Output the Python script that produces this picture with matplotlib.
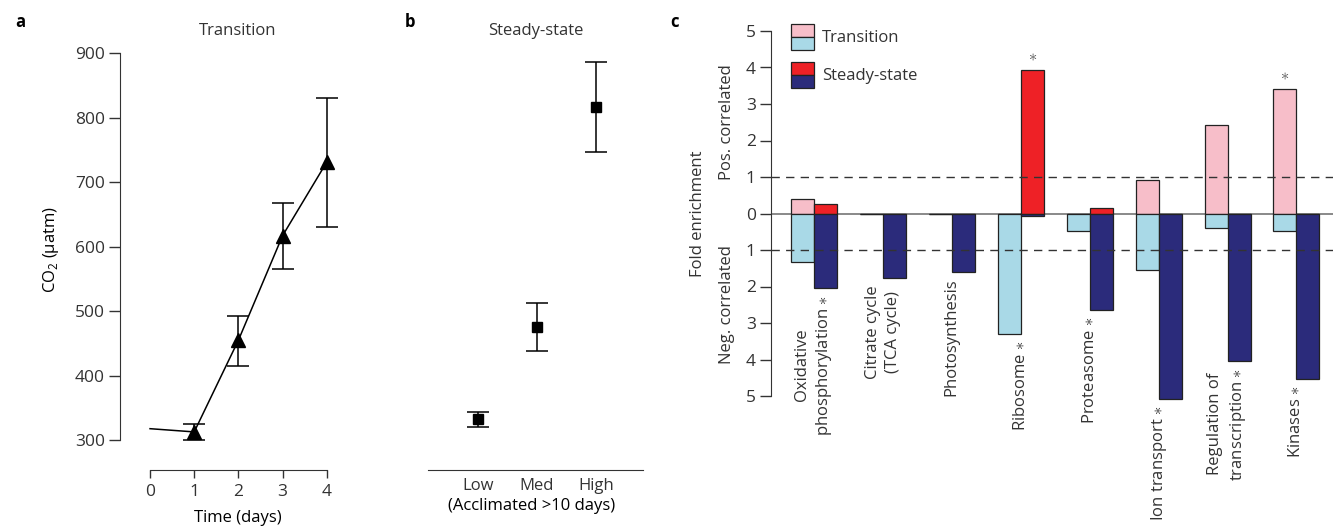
import numpy as np
import matplotlib
matplotlib.use('Agg')
import matplotlib.pyplot as plt
from matplotlib.patches import Patch, Rectangle
from matplotlib.legend_handler import HandlerBase
from matplotlib.ticker import FuncFormatter

plt.rcParams['font.family'] = ['Open Sans', 'DejaVu Sans']
plt.rcParams['mathtext.fontset'] = 'custom'
plt.rcParams['mathtext.rm'] = 'Open Sans'
plt.rcParams['mathtext.fallback'] = 'cm'
plt.rcParams['font.size'] = 12
TXT = '#333333'
plt.rcParams['text.color'] = TXT
plt.rcParams['axes.edgecolor'] = TXT
plt.rcParams['xtick.color'] = TXT
plt.rcParams['ytick.color'] = TXT

# ---- panel a: transition ----
days = [0, 1, 2, 3, 4]
co2_transition = [318, 313, 455, 617, 731]
trans_err_low = [300, 415, 565, 630]    # days 1-4
trans_err_high = [325, 493, 668, 830]

# ---- panel b: steady-state ----
levels = ['Low', 'Med', 'High']
co2_steady = [333, 475, 816]
steady_err_low = [320, 438, 747]
steady_err_high = [344, 512, 886]

# ---- panel c: fold enrichment ----
categories = ["Oxidative\nphosphorylation $\\ast$", "Citrate cycle\n(TCA cycle)", "Photosynthesis",
              "Ribosome $\\ast$", "Proteasome $\\ast$", "Ion transport $\\ast$",
              "Regulation of\ntranscription $\\ast$", "Kinases $\\ast$"]
trans_pos = [0.41, 0, 0, 0, 0, 0.93, 2.42, 3.40]
trans_neg = [1.34, 0, 0, 3.29, 0.48, 1.54, 0.40, 0.47]
steady_pos = [0.25, 0, 0, 3.92, 0.16, 0, 0, 0]
steady_neg = [2.03, 1.77, 1.59, 0.07, 2.64, 5.08, 4.03, 4.53]
# significant positive enrichment marked above bar: (category index, series)
star_above = [(3, 'steady'), (7, 'transition')]

PINK, LBLUE, RED, NAVY = '#F7BEC9', '#A9D9E7', '#EE2126', '#2B2B7B'
EDGE = '#222222'

W, H = 1333, 526
fig = plt.figure(figsize=(W / 100, H / 100), dpi=100)

def px_box(left, top, right, bottom):
    return [left / W, 1 - bottom / H, (right - left) / W, (bottom - top) / H]

# ================= a =================
axa = fig.add_axes(px_box(120, 53, 340, 470))
axa.plot(days, co2_transition, color='black', lw=1.1, zorder=2)
c1 = np.array(co2_transition[1:])
yerr = [c1 - np.array(trans_err_low), np.array(trans_err_high) - c1]
axa.errorbar(days[1:], c1, yerr=yerr, fmt='^', color='black', ms=10,
             capsize=8, elinewidth=1.1, capthick=1.1, zorder=3)
axa.set_xlim(-0.68, 4.3)
axa.set_ylim(254, 900)
axa.spines[['top', 'right']].set_visible(False)
axa.spines['left'].set_bounds(300, 900)
axa.spines['bottom'].set_bounds(0, 4)
axa.set_yticks(range(300, 901, 100))
axa.set_xticks(range(0, 5))
axa.tick_params(axis='y', length=8, width=1, pad=3, labelsize=12.5)
axa.tick_params(axis='x', length=6, width=1, pad=4, labelsize=12.5)
axa.set_ylabel(r'CO$_\mathregular{2}$ ($\mathregular{\mu}$atm)', fontsize=12)
axa.yaxis.set_label_coords(-0.27, 0.53)
axa.set_xlabel('Time (days)', fontsize=12)
axa.xaxis.set_label_coords(0.536, -0.097)
axa.xaxis.label.set_va('top')
axa.set_title('Transition', fontsize=12, x=0.536, pad=13)

# ================= b =================
axb = fig.add_axes(px_box(428, 53, 643, 470))
xb = np.arange(len(levels))
cs = np.array(co2_steady)
axb.errorbar(xb, cs, yerr=[cs - np.array(steady_err_low), np.array(steady_err_high) - cs],
             fmt='s', color='black', ms=7.5, capsize=8, elinewidth=1.1, capthick=1.1)
axb.set_xlim(-0.85, 2.8)
axb.set_ylim(254, 900)
axb.spines[['top', 'right', 'left']].set_visible(False)
axb.set_yticks([])
axb.set_xticks(xb)
axb.set_xticklabels(levels)
axb.tick_params(axis='x', length=0, pad=6, labelsize=12)
axb.set_xlabel('(Acclimated >10 days)', fontsize=12)
axb.xaxis.set_label_coords(0.484, -0.066)
axb.xaxis.label.set_va('top')
axb.set_title('Steady-state', fontsize=12, pad=13)

# ================= c =================
axc = fig.add_axes(px_box(771, 31, 1333, 403.3))
x = np.arange(len(categories))
bw = 1 / 3
tp, tn = np.array(trans_pos), np.array(trans_neg)
sp, sn = np.array(steady_pos), np.array(steady_neg)
axc.axhline(0, color='#808080', lw=1.3, zorder=1)
kw = dict(width=bw, edgecolor=EDGE, linewidth=0.9, zorder=2)
axc.bar(x - bw / 2, tp, color=PINK, **kw)
axc.bar(x - bw / 2, -tn, color=LBLUE, **kw)
axc.bar(x + bw / 2, sp, color=RED, **kw)
axc.bar(x + bw / 2, -sn, color=NAVY, **kw)
for yv in (1, -1):
    axc.axhline(yv, color='#333333', lw=1, dashes=(6, 4.5), zorder=3)

axc.set_xlim(-0.624, 7.53)
axc.set_ylim(-5.2, 5.0)
axc.spines[['top', 'right', 'bottom']].set_visible(False)
axc.spines['left'].set_bounds(-5, 5)
axc.set_yticks(range(-5, 6))
axc.yaxis.set_major_formatter(FuncFormatter(lambda v, p: f"{abs(v):g}"))
axc.tick_params(axis='y', length=8, width=1, pad=3, labelsize=12.5)
axc.set_xticks([])

lowest = np.minimum(-tn, -sn)
for xi, lo, lab in zip(x, lowest, categories):
    axc.annotate(lab, xy=(xi, lo), xytext=(0, -5), textcoords='offset points',
                 rotation=90, ha='center', va='top', fontsize=12,
                 linespacing=1.35, annotation_clip=False)

for idx, series in star_above:
    if series == 'steady':
        xs, top = x[idx] + bw / 2, sp[idx]
    else:
        xs, top = x[idx] - bw / 2, tp[idx]
    axc.annotate(r'$\ast$', xy=(xs, top), xytext=(0, 4), textcoords='offset points',
                 ha='center', va='bottom', fontsize=12, color='#555555')

tr = axc.get_yaxis_transform()
axc.text(-0.130, 0, 'Fold enrichment', transform=tr, rotation=90, ha='center', va='center', fontsize=12)
axc.text(-0.078, 2.5, 'Pos. correlated', transform=tr, rotation=90, ha='center', va='center', fontsize=12)
axc.text(-0.078, -2.5, 'Neg. correlated', transform=tr, rotation=90, ha='center', va='center', fontsize=12)


class TwoTone(HandlerBase):
    def __init__(self, top, bottom):
        super().__init__()
        self.top, self.bottom = top, bottom

    def create_artists(self, legend, orig_handle, xdescent, ydescent, width, height, fontsize, trans):
        x0, y0 = -xdescent, -ydescent
        r1 = Rectangle((x0, y0 + height / 2), width, height / 2, facecolor=self.top,
                       edgecolor=EDGE, lw=0.9, transform=trans)
        r2 = Rectangle((x0, y0), width, height / 2, facecolor=self.bottom,
                       edgecolor=EDGE, lw=0.9, transform=trans)
        return [r1, r2]


h_tr, h_ss = Patch(), Patch()
axc.legend([h_tr, h_ss], ['Transition', 'Steady-state'],
           handler_map={h_tr: TwoTone(PINK, LBLUE), h_ss: TwoTone(RED, NAVY)},
           loc='upper left', bbox_to_anchor=(0.0356, 1.02), frameon=False,
           borderpad=0, borderaxespad=0, handlelength=1.39, handleheight=2.05,
           handletextpad=0.45, labelspacing=0.72, fontsize=12)

fig.text(15 / W, 1 - 22 / H, 'a', fontsize=12, fontweight='bold', va='center', color='black')
fig.text(405 / W, 1 - 22 / H, 'b', fontsize=12, fontweight='bold', va='center', color='black')
fig.text(670 / W, 1 - 22 / H, 'c', fontsize=12, fontweight='bold', va='center', color='black')

fig.savefig('out.png', dpi=100)
